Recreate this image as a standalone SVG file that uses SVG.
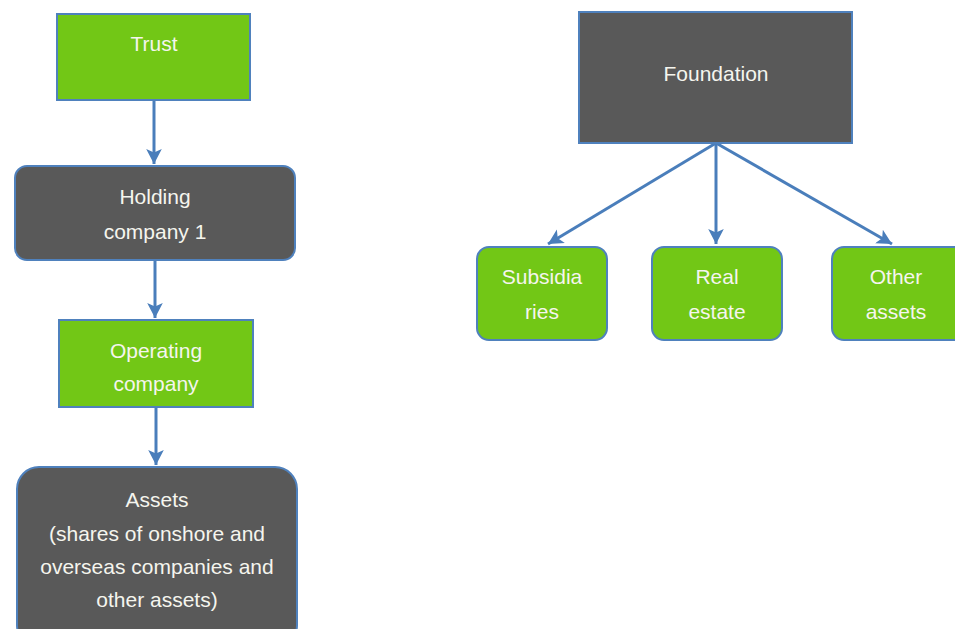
<svg xmlns="http://www.w3.org/2000/svg" width="955" height="629" viewBox="0 0 955 629">
<style>
.g{fill:#72C716;stroke:#4F81BD;stroke-width:2}
.d{fill:#595959;stroke:#4F81BD;stroke-width:2}
.t{font-family:"Liberation Sans","Open Sans",sans-serif;font-size:21px;fill:#F5F5EE;text-anchor:middle}
.c{stroke:#4A7EBB;stroke-width:3;fill:none;marker-end:url(#ah)}
</style>
<defs>
<marker id="ah" markerWidth="6" markerHeight="6" refX="5" refY="3" orient="auto" markerUnits="strokeWidth">
<path d="M0,0.4 L5,3 L0,5.6 L1.2,3 Z" fill="#4A7EBB"/>
</marker>
</defs>
<rect width="955" height="629" fill="#FFFFFF"/>
<g id="connectors">
<line class="c" x1="154" y1="100" x2="154" y2="164"/>
<line class="c" x1="155" y1="260" x2="155" y2="318"/>
<line class="c" x1="156" y1="407" x2="156" y2="465"/>
<line class="c" x1="716" y1="143" x2="548" y2="244"/>
<line class="c" x1="716" y1="143" x2="716" y2="244"/>
<line class="c" x1="716" y1="143" x2="892" y2="244"/>
</g>
<g id="trust">
<rect class="g" x="57" y="14" width="193" height="86"/>
<text class="t" x="154" y="51">Trust</text>
</g>
<g id="holding">
<rect class="d" x="15" y="166" width="280" height="94" rx="12"/>
<text class="t" x="155" y="204">Holding</text>
<text class="t" x="155" y="239">company 1</text>
</g>
<g id="operating">
<rect class="g" x="59" y="320" width="194" height="87"/>
<text class="t" x="156" y="358">Operating</text>
<text class="t" x="156" y="391">company</text>
</g>
<g id="assets">
<rect class="d" x="17" y="467" width="280" height="180" rx="22"/>
<text class="t" x="157" y="507">Assets</text>
<text class="t" x="157" y="541">(shares of onshore and</text>
<text class="t" x="157" y="574">overseas companies and</text>
<text class="t" x="157" y="607">other assets)</text>
</g>
<g id="foundation">
<rect class="d" x="579" y="12" width="273" height="131"/>
<text class="t" x="716" y="81">Foundation</text>
</g>
<g id="subsidiaries">
<rect class="g" x="477" y="247" width="130" height="93" rx="12"/>
<text class="t" x="542" y="284">Subsidia</text>
<text class="t" x="542" y="319">ries</text>
</g>
<g id="realestate">
<rect class="g" x="652" y="247" width="130" height="93" rx="12"/>
<text class="t" x="717" y="284">Real</text>
<text class="t" x="717" y="319">estate</text>
</g>
<g id="otherassets">
<rect class="g" x="832" y="247" width="140" height="93" rx="12"/>
<text class="t" x="896" y="284">Other</text>
<text class="t" x="896" y="319">assets</text>
</g>
</svg>
